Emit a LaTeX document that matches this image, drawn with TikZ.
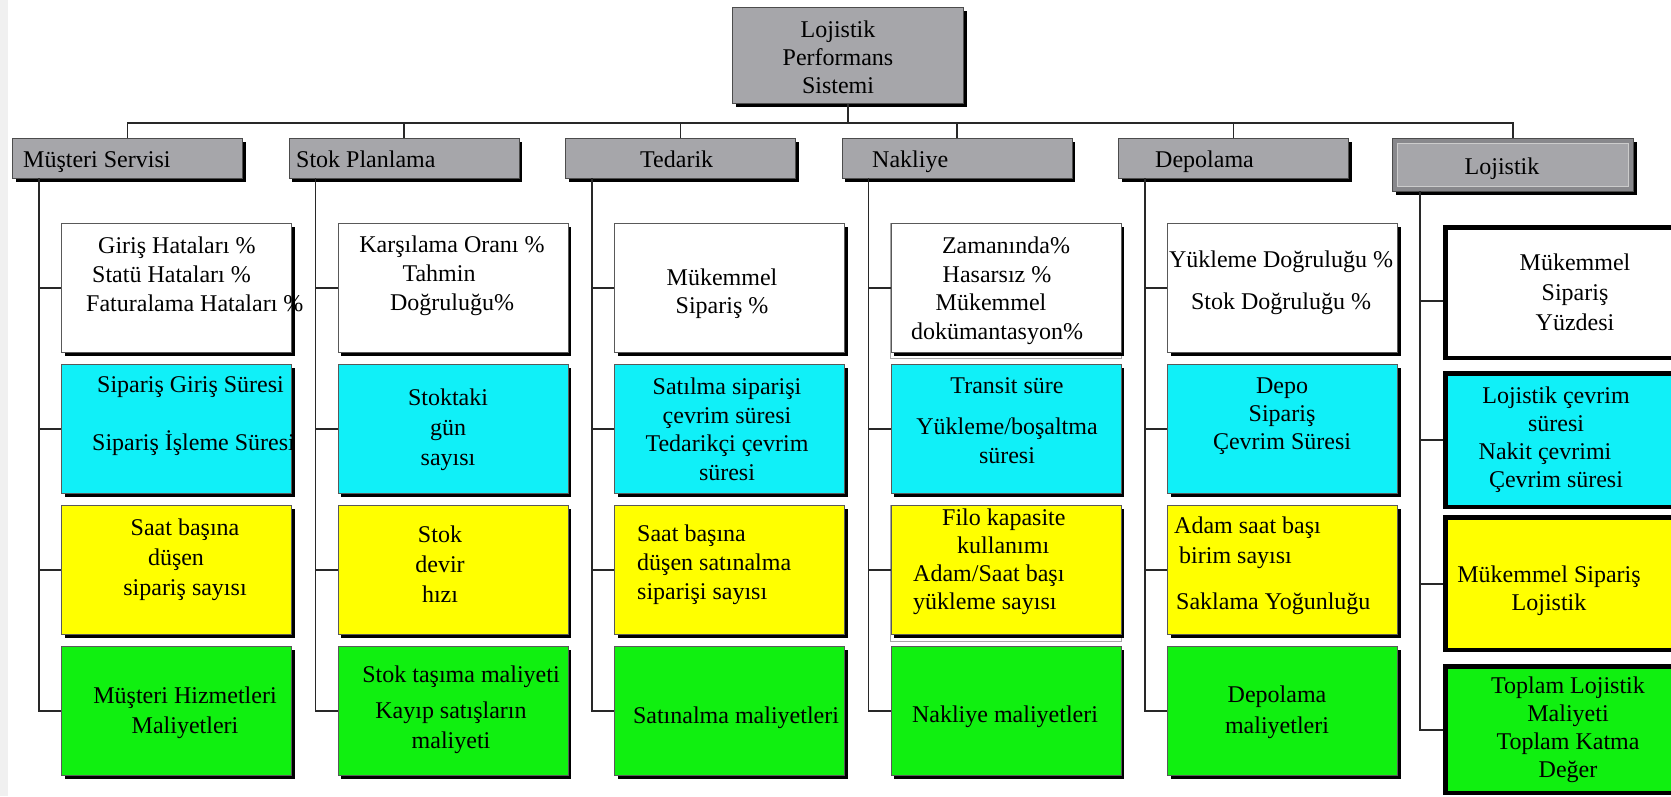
\documentclass[tikz,border=0pt]{standalone}
\usepackage{fontspec}
\setmainfont{Liberation Serif}
\usetikzlibrary{shadows,calc}

\definecolor{hdrgray}{RGB}{166,166,170}
\definecolor{hdrdark}{RGB}{136,136,140}
\definecolor{kcyan}{RGB}{16,240,248}
\definecolor{kyellow}{RGB}{255,255,0}
\definecolor{kgreen}{RGB}{16,240,16}
\definecolor{wirecol}{RGB}{40,40,40}

\newcommand{\lblfont}{\fontsize{24pt}{29pt}\selectfont}
% invisible horizontal padding that survives line ends
\newcommand{\padw}[1]{\rule{#1}{0pt}}

\begin{document}
\begin{tikzpicture}[x=1pt, y=-1pt,
  solid shadow/.style={drop shadow={shadow xshift=3.5pt, shadow yshift=-3.5pt, opacity=1, fill=black}},
  hdr/.style={rectangle, draw=black!70, line width=0.8pt, fill=hdrgray, solid shadow,
    minimum width=230pt, minimum height=40pt, inner sep=0pt, anchor=north west},
  kpi/.style={rectangle, draw=black!65, line width=0.8pt, solid shadow,
    minimum width=230pt, minimum height=129pt, inner sep=0pt, anchor=north west},
  kpibold/.style={rectangle, draw=black, line width=4.5pt, minimum width=280pt,
    inner sep=0pt, anchor=north west},
  lbl/.style={font=\lblfont, inner sep=0pt, align=center, anchor=north, yshift=-4pt,
    execute at begin node=\strut},
  lblL/.style={lbl, align=left, anchor=north west},
  hlbl/.style={font=\lblfont, inner sep=0pt, anchor=base west},
  link/.style={draw=wirecol, line width=1.8pt},
]
\useasboundingbox (0,0) rectangle (1671,796);
\clip (0,0) rectangle (1671,796);
\fill[white] (0,0) rectangle (1671,796);
\fill[black!6] (0,0) rectangle (8,796);

% ---------- root ----------
\node[hdr, minimum width=231pt, minimum height=96pt] (lps) at (732,7) {};
\node[lbl] (lps-t) at (838,17) {Lojistik\\[-1pt]Performans\\[-1pt]Sistemi};

% ---------- category headers ----------
\node[hdr] (h1) at (12,138) {};
\node[hdr] (h2) at (288.5,138) {};
\node[hdr] (h3) at (565,138) {};
\node[hdr] (h4) at (841.5,138) {};
\node[hdr] (h5) at (1118,138) {};
\node[hdr, fill=hdrdark, minimum width=241pt, minimum height=53pt] (h6) at (1392,138) {};
\node[draw=black!20, line width=0.8pt, fill=hdrgray, minimum width=231pt, minimum height=43pt, inner sep=0pt] (h6in) at (h6.center) {};

\node[hlbl] (h1-t) at (23,167) {Müşteri Servisi};
\node[hlbl] (h2-t) at (296,167) {Stok Planlama};
\node[hlbl] (h3-t) at (640,167) {Tedarik};
\node[hlbl] (h4-t) at (872,167) {Nakliye};
\node[hlbl] (h5-t) at (1155,167) {Depolama};
\node[font=\lblfont, inner sep=0pt, anchor=base] (h6-t) at (1502,174) {Lojistik};

% ---------- bus from root to headers ----------
\coordinate (bus) at (0,123);
\draw[link] (lps.south) -- (lps.south |- bus);
\draw[link] (h1.north) -- (h1.north |- bus) -- (h6.north |- bus) -- (h6.north);
\foreach \h in {h2,h3,h4,h5} \draw[link] (\h.north) -- (\h.north |- bus);

% ---------- faint outlines behind two Nakliye boxes ----------
\draw[black!35, line width=0.8pt] (890.5,223) rectangle (1121.5,358);
\draw[black!35, line width=0.8pt] (890.5,505) rectangle (1121.5,641);

% ---------- indicator boxes, columns 1-5 ----------
\foreach \i/\L in {1/61, 2/337.5, 3/614, 4/890.5, 5/1167} {
  \node[kpi, fill=white]   (w\i) at (\L,223) {};
  \node[kpi, fill=kcyan]   (c\i) at (\L,364) {};
  \node[kpi, fill=kyellow] (y\i) at (\L,505) {};
  \node[kpi, fill=kgreen]  (g\i) at (\L,646) {};
  \coordinate (sp\i) at (\L-22,178);
  \draw[link] (sp\i) |- (g\i.west);
  \draw[link] (sp\i |- w\i.west) -- (w\i.west);
  \draw[link] (sp\i |- c\i.west) -- (c\i.west);
  \draw[link] (sp\i |- y\i.west) -- (y\i.west);
}

% ---------- indicator boxes, Lojistik column ----------
\node[kpibold, fill=white,   minimum height=130.5pt] (w6) at (1443.25,225.25) {};
\node[kpibold, fill=kcyan,   minimum height=133.5pt] (c6) at (1443.25,371.25) {};
\node[kpibold, fill=kyellow, minimum height=132.5pt] (y6) at (1443.25,515.25) {};
\node[kpibold, fill=kgreen,  minimum height=126.5pt] (g6) at (1443.25,664.25) {};
\coordinate (sp6) at (1420,191);
\coordinate (w6in) at ([yshift=-8.5pt]w6.west);
\draw[link] (sp6) |- (g6.west);
\draw[link] (sp6 |- w6in) -- (w6in);
\draw[link] (sp6 |- c6.west) -- (c6.west);
\draw[link] (sp6 |- y6.west) -- (y6.west);

% ---------- Müşteri Servisi ----------
\node[lblL] (w1-t) at (86,233) {\padw{12pt}Giriş Hataları \%\\\padw{6pt}Statü Hataları \%\\Faturalama Hataları \%};
\node[lblL] (c1-t) at (92,372) {\padw{5pt}Sipariş Giriş Süresi\\[29pt]Sipariş İşleme Süresi};
\node[lbl] (y1-t) at (185,515) {Saat başına\\[1pt]düşen\padw{18pt}\\[1pt]sipariş sayısı};
\node[lbl] (g1-t) at (185,683) {Müşteri Hizmetleri\\[1pt]Maliyetleri};

% ---------- Stok Planlama ----------
\node[lbl] (w2-t) at (452,232) {Karşılama Oranı \%\\Tahmin\padw{26pt}\\Doğruluğu\%};
\node[lbl] (c2-t) at (448,385) {Stoktaki\\[1pt]gün\\[1pt]sayısı};
\node[lbl] (y2-t) at (440,522) {Stok\\[1pt]devir\\[1pt]hızı};
\node[lbl] (g2-t) at (451,662) {\padw{20pt}Stok taşıma maliyeti\\[7pt]Kayıp satışların\\[1pt]maliyeti};

% ---------- Tedarik ----------
\node[lbl] (w3-t) at (722,265) {Mükemmel\\[-1pt]Sipariş \%};
\node[lbl] (c3-t) at (727,374) {Satılma siparişi\\[-0.5pt]çevrim süresi\\[-0.5pt]Tedarikçi çevrim\\[-0.5pt]süresi};
\node[lblL] (y3-t) at (637,521) {Saat başına\\düşen satınalma\\siparişi sayısı};
\node[lbl] (g3-t) at (736,699) {Satınalma maliyetleri};

% ---------- Nakliye ----------
\node[lbl] (w4-t) at (997,233) {\padw{18pt}Zamanında\%\\[-0.5pt]Hasarsız \%\\[-0.5pt]Mükemmel\padw{12pt}\\[-0.5pt]dokümantasyon\%};
\node[lbl] (c4-t) at (1007,373) {Transit süre\\[12pt]Yükleme/boşaltma\\süresi};
\node[lblL] (y4-t) at (913,505) {\padw{29pt}Filo kapasite\\[-1pt]\padw{44pt}kullanımı\\[-1pt]Adam/Saat başı\\[-1pt]yükleme sayısı};
\node[lbl] (g4-t) at (1005,698) {Nakliye maliyetleri};

% ---------- Depolama ----------
\node[lbl] (w5-t) at (1281,247) {Yükleme Doğruluğu \%\\[13pt]Stok Doğruluğu \%};
\node[lbl] (c5-t) at (1282,374) {Depo\\[-1pt]Sipariş\\[-1pt]Çevrim Süresi};
\node[lblL] (y5-t) at (1174,513) {Adam saat başı\\[1pt]\padw{5pt}birim sayısı\\[17pt]\padw{2pt}Saklama Yoğunluğu};
\node[lbl] (g5-t) at (1277,682) {Depolama\\[2pt]maliyetleri};

% ---------- Lojistik ----------
\node[lbl] (w6-t) at (1575,250) {Mükemmel\\[1pt]Sipariş\\[1pt]Yüzdesi};
\node[lbl] (c6-t) at (1556,383) {Lojistik çevrim\\[-1pt]süresi\\[-1pt]Nakit çevrimi\padw{22pt}\\[-1pt]Çevrim süresi};
\node[lbl] (y6-t) at (1549,562) {Mükemmel Sipariş\\[-1pt]Lojistik};
\node[lbl] (g6-t) at (1568,673) {Toplam Lojistik\\[-1pt]Maliyeti\\[-1pt]Toplam Katma\\[-1pt]Değer};
\end{tikzpicture}
\end{document}
